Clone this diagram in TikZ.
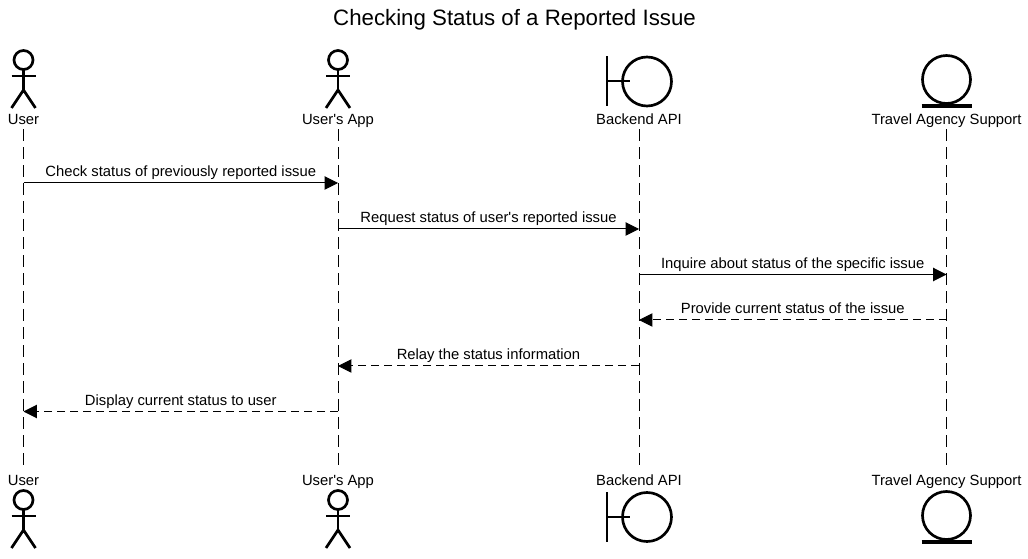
\documentclass[tikz,border=0pt]{standalone}
\usepackage{fontspec}
\newfontfamily\hv{Liberation Sans}
\usetikzlibrary{arrows.meta}
\tikzset{x=0.75pt,y=-0.75pt,
 lbl/.style={font=\hv\fontsize{11.1pt}{13pt}\selectfont,inner sep=0pt,text=black,text height=8pt,text depth=2pt},
 life/.style={line width=0.75pt,dash pattern=on 9pt off 4.5pt},
 sym/.style={line width=2pt,draw=black},
 sync/.style={line width=0.75pt,-{Triangle[length=10pt,width=10pt]}},
 reply/.style={line width=0.75pt,dash pattern=on 6pt off 3.75pt,-{Triangle[length=10pt,width=10pt]}}}
\newcommand{\actorfig}[2]{%
 \draw[sym] (#1,#2) circle (9.5);
 \draw[sym] (#1,#2+9.5) -- (#1,#2+30);
 \draw[sym] (#1-12,#2+16) -- (#1+12,#2+16);
 \draw[sym] (#1-12,#2+48) -- (#1,#2+30) -- (#1+12,#2+48);}
\newcommand{\boundaryfig}[2]{%
 \draw[sym] (#1-32,#2) -- (#1-32,#2+50);
 \draw[line width=1.5pt] (#1-32,#2+25) -- (#1-9,#2+25);
 \draw[sym] (#1+8,#2+25) circle (24.5);}
\newcommand{\entityfig}[2]{%
 \draw[sym] (#1,#2+24.5) circle (24);
 \draw[line width=2.3pt] (#1-25,#2+51) -- (#1+25,#2+51);}
\begin{document}
\begin{tikzpicture}
\useasboundingbox (0,0) rectangle (1028,559);
\fill[white] (0,0) rectangle (1028,559);
\node[font=\hv\fontsize{16.7pt}{20pt}\selectfont,inner sep=0pt] (title) at (514.5,19.5) {Checking Status of a Reported Issue};
\node[lbl] (u1) at (23.5,120.5) {User};
\node[lbl] (a1) at (338,120.5) {User's App};
\node[lbl] (b1) at (639,120.5) {Backend API};
\node[lbl] (t1) at (946.5,120.5) {Travel Agency Support};
\node[lbl] (u2) at (23.5,481.5) {User};
\node[lbl] (a2) at (338,481.5) {User's App};
\node[lbl] (b2) at (639,481.5) {Backend API};
\node[lbl] (t2) at (946.5,481.5) {Travel Agency Support};
\draw[life] (u1.south) ++(0,2) -- ([yshift=7.5pt]u2.north);
\draw[life] (a1.south) ++(0,2) -- ([yshift=7.5pt]a2.north);
\draw[life] (b1.south) ++(0,2) -- ([yshift=7.5pt]b2.north);
\draw[life] (t1.south) ++(0,2) -- ([yshift=7.5pt]t2.north);
\actorfig{23.5}{60}
\actorfig{338}{60}
\boundaryfig{639}{56.5}
\entityfig{946.5}{55}
\actorfig{23.5}{500}
\actorfig{338}{500}
\boundaryfig{639}{492}
\entityfig{946.5}{491}
\draw[sync] (u1 |- 0,183) -- node[lbl,above=2.5pt]{Check status of previously reported issue} (a1 |- 0,183);
\draw[sync] (a1 |- 0,229) -- node[lbl,above=2.5pt]{Request status of user's reported issue} (b1 |- 0,229);
\draw[sync] (b1 |- 0,274.5) -- node[lbl,above=2pt]{Inquire about status of the specific issue} (t1 |- 0,274.5);
\draw[reply] (t1 |- 0,320) -- node[lbl,above=2.5pt]{Provide current status of the issue} (b1 |- 0,320);
\draw[reply] (b1 |- 0,366) -- node[lbl,above=2.5pt]{Relay the status information} (a1 |- 0,366);
\draw[reply] (a1 |- 0,411.5) -- node[lbl,above=2pt]{Display current status to user} (u1 |- 0,411.5);
\end{tikzpicture}
\end{document}
